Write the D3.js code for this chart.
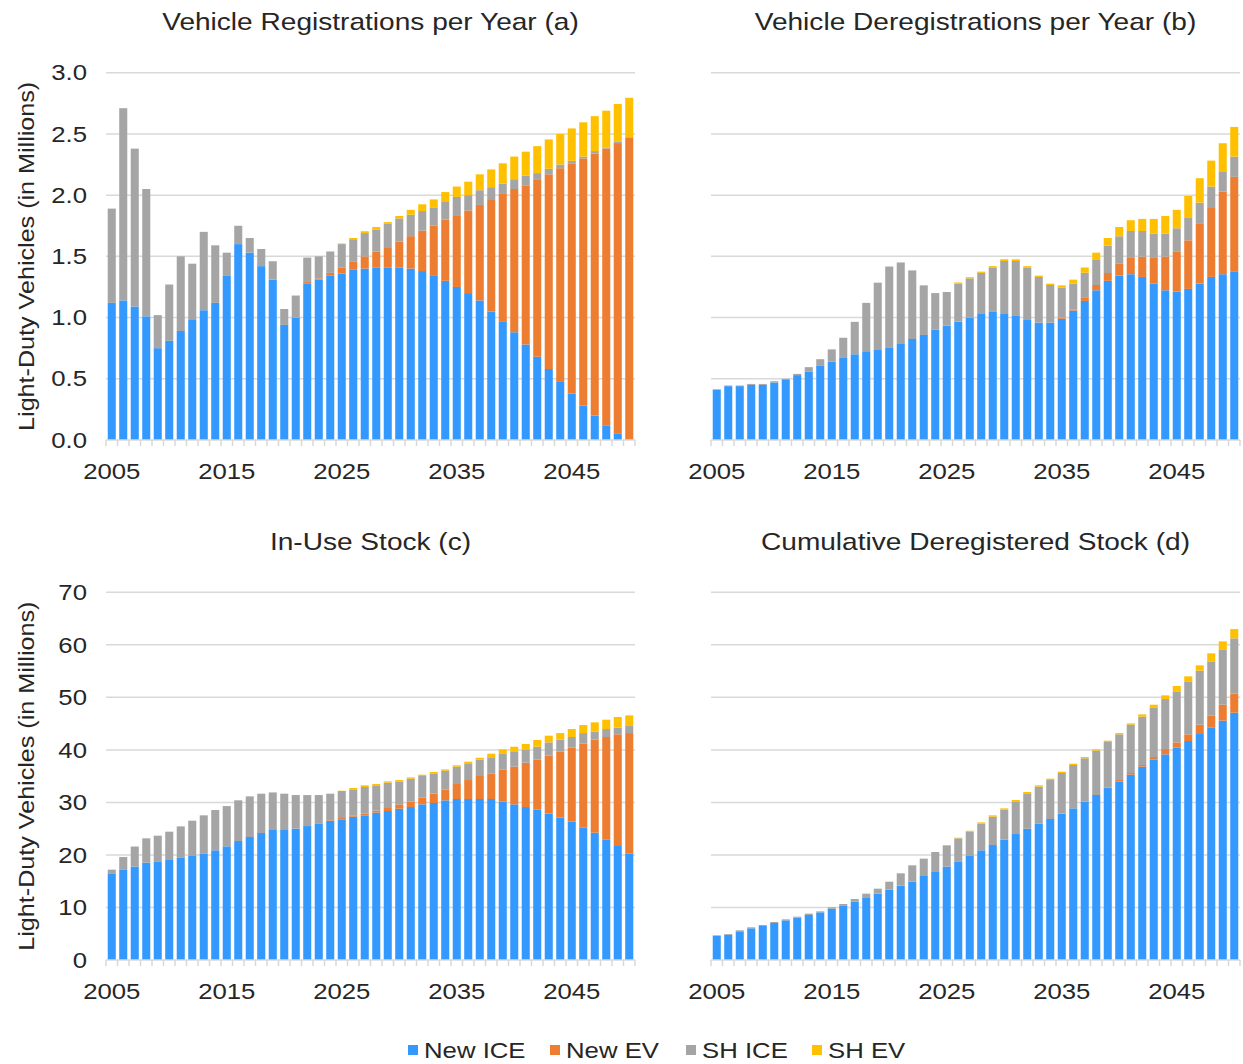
<!DOCTYPE html>
<html><head><meta charset="utf-8">
<script src="https://cdn.jsdelivr.net/npm/d3@7"></script>
<style>body{margin:0;background:#fff} svg text{font-family:"Liberation Sans",Arial,sans-serif}</style>
</head><body><svg id="chart" width="1243" height="1064"></svg>
<script>
const years = [2005,2006,2007,2008,2009,2010,2011,2012,2013,2014,2015,2016,2017,2018,2019,2020,2021,2022,2023,2024,2025,2026,2027,2028,2029,2030,2031,2032,2033,2034,2035,2036,2037,2038,2039,2040,2041,2042,2043,2044,2045,2046,2047,2048,2049,2050];
const seriesNames = ["New ICE","New EV","SH ICE","SH EV"];
const seriesColors = ["#3399ff","#ed7d31","#a5a5a5","#ffc000"];
const xTickLabels = [2005,2015,2025,2035,2045];
const annualYTicks = [0,0.5,1.0,1.5,2.0,2.5,3.0];
const stockYTicks = [0,10,20,30,40,50,60,70];
const panelTitles = ["Vehicle Registrations per Year (a)","Vehicle Deregistrations per Year (b)","In-Use Stock (c)","Cumulative Deregistered Stock (d)"];
const yAxisTitle = "Light-Duty Vehicles (in Millions)";

// (a) registrations per year
const regNewICE = [1.12,1.14,1.09,1.01,0.75,0.81,0.89,0.98,1.06,1.12, 1.34,1.60,1.53,1.42,1.31,0.94,1.00,1.28,1.31,1.345, 1.36,1.39,1.40,1.41,1.41,1.41,1.40,1.38,1.34,1.30, 1.25,1.20,1.14,1.05,0.97,0.88,0.78,0.68,0.58,0.48, 0.38,0.28,0.20,0.12,0.05,0.0];
const regNewEV = [0,0,0,0,0, 0,0,0,0,0, 0,0,0,0,0, 0,0, 0.01,0.01,0.02,0.05,0.065,0.10,0.13,0.165,0.21,0.265,0.33,0.41,0.50,0.58,0.675,0.78,0.91,1.04,1.17,1.30,1.45,1.59,1.74,1.88,2.02,2.14,2.26,2.375,2.47];
const regShICE = [0.77,1.57,1.29,1.04,0.27,0.46,0.61,0.46,0.64,0.47, 0.19,0.15,0.12,0.14,0.15,0.13,0.18,0.20,0.18,0.175, 0.19,0.185,0.19,0.18,0.19,0.19,0.175,0.16,0.15,0.15, 0.155,0.125,0.12,0.105,0.085,0.08,0.08,0.05,0.045,0.03, 0.02,0.015,0.02,0.01,0.01,0.005];
const regShEV = [0,0,0,0,0, 0,0,0,0,0, 0,0,0,0,0, 0,0,0,0,0, 0.005,0.01,0.015,0.02,0.015,0.02,0.04,0.055,0.065,0.075,0.085,0.11,0.13,0.145,0.165,0.185,0.195,0.22,0.24,0.25,0.265,0.28,0.285,0.30,0.31,0.32];

// (b) deregistrations per year
const deregNewICE = [0.41,0.44,0.44,0.45,0.45,0.47,0.49,0.53,0.56,0.605, 0.64,0.67,0.70,0.725,0.735,0.757,0.79,0.825,0.858,0.90, 0.934,0.967,1.00,1.035,1.046,1.035,1.013,0.98,0.958,0.958, 0.99,1.057,1.136,1.223,1.30,1.343,1.354,1.332,1.277,1.223, 1.212,1.234,1.277,1.332,1.354,1.378];
const deregNewEV = [0,0,0,0,0, 0,0,0,0,0, 0,0,0,0,0, 0,0,0,0,0, 0,0,0,0,0, 0,0,0,0,0, 0.01,0.01,0.03,0.043,0.064,0.10,0.133,0.166,0.21,0.275,0.329,0.397,0.488,0.563,0.675,0.771];
const deregShICE = [0.005,0.005,0.005,0.008,0.008,0.01,0.01,0.01,0.035,0.055, 0.10,0.165,0.265,0.395,0.55,0.66,0.66,0.56,0.405,0.30, 0.275,0.31,0.32,0.33,0.364,0.427,0.449,0.43,0.374,0.308, 0.243,0.21,0.20,0.21,0.224,0.221,0.22,0.209,0.199,0.188, 0.188,0.188,0.174,0.175,0.166,0.166];
const deregShEV = [0,0,0,0,0, 0,0,0,0,0, 0,0,0,0,0, 0,0,0,0,0, 0, 0.01,0.01,0.01,0.01,0.014,0.014,0.01,0.011,0.011,0.02,0.033,0.043,0.054,0.062,0.076,0.088,0.099,0.12,0.144,0.151,0.174,0.199,0.212,0.229,0.242];

// (c) in-use stock
const stockNewICE = [16.5,17.26,17.77,18.53,18.78,19.04,19.54,19.8,20.3,20.88, 21.64,22.65,23.41,24.18,24.75,24.75,25.0,25.5,26.0,26.5, 26.78,27.28,27.54,28.05,28.36,28.8,29.12,29.63,29.89,30.39, 30.65,30.65,30.65,30.65,30.14,29.63,29.12,28.62,27.86,27.1, 26.33,25.25,24.24,22.97,21.7,20.3];
const stockNewEV = [0,0,0,0,0, 0,0,0,0,0, 0,0,0,0,0, 0,0,0, 0.05,0.1,0.25,0.26,0.36,0.38,0.57,0.83,1.02,1.27,1.77,2.03,2.85,3.61,4.38,4.88,6.15,7.17,8.44,9.51,11.04,12.56,14.09,15.93,17.7,19.48,21.26,22.9];
const stockShICE = [0.7,2.34,3.83,4.63,4.89,5.39,5.9,6.72,7.24,7.67, 7.66,7.75,7.74,7.48,7.15,6.91,6.4,5.9,5.35,5.06, 5.14,4.95,5.03,4.82,4.83,4.37,4.38,4.13,3.87,3.62, 3.3,3.05,3.1,3.05,3.05,2.8,2.54,2.47,2.53,2.28, 2.03,2.02,1.52,1.52,1.27,1.34];
const stockShEV = [0,0,0,0,0, 0,0,0,0,0, 0,0,0,0,0, 0,0,0,0,0, 0.05,0.25,0.32,0.25,0.24,0.26,0.25,0.25,0.26,0.25,0.26,0.44,0.37,0.7,0.76,1.0,1.02,1.28,1.27,1.26,1.52,1.53,1.78,1.78,2.03,2.03];

// (d) cumulative deregistered stock
const cumNewICE = [4.57,4.82,5.46,6.03,6.47,7.04,7.55,8.06,8.57,9.07, 9.77,10.4,11.1,11.8,12.63,13.39,14.15,14.91,15.99,16.75, 17.77,18.78,19.8,20.88,21.89,22.91,23.98,25.0,26.0,26.84, 27.86,28.87,30.14,31.41,32.74,34.0,35.28,36.8,38.13,39.15, 40.42,41.69,43.02,44.29,45.56,47.08];
const cumNewEV = [0,0,0,0,0, 0,0,0,0,0, 0,0,0,0,0, 0,0,0,0,0, 0,0,0,0,0, 0,0,0,0,0, 0,0,0,0, 0.05,0.26,0.32,0.32,0.51,1.01,1.01,1.27,1.78,2.28,3.04,3.62];
const cumShICE = [0.13,0.13,0.19,0.19,0.19,0.19,0.19,0.19,0.25,0.19, 0.26,0.26,0.51,0.83,0.95,1.52,2.35,3.11,3.3,3.81, 4.06,4.38,4.6,5.07,5.39,5.71,6.22,6.73,7.0,7.42, 7.74,8.25,8.25,8.44,8.71,8.7,9.2,9.2,9.46,9.52, 9.71,10.09,10.28,10.28,10.54,10.53];
const cumShEV = [0,0,0,0,0, 0,0,0,0,0, 0,0,0,0,0, 0,0,0,0,0, 0, 0.12,0.2,0.25,0.26,0.25,0.26,0.25,0.25,0.26,0.25,0.25,0.25,0.25,0.25,0.24,0.25,0.44,0.5,0.7,1.02,0.95,1.01,1.53,1.52,1.77];

const panels = [
  {title: panelTitles[0], series: [regNewICE, regNewEV, regShICE, regShEV], ticks: annualYTicks, fmt: d3.format(".1f"), left: 106, right: 635, top: 72.7, bottom: 440, showY: true, titleY: 22},
  {title: panelTitles[1], series: [deregNewICE, deregNewEV, deregShICE, deregShEV], ticks: annualYTicks, fmt: d3.format(".1f"), left: 711, right: 1240, top: 72.7, bottom: 440, showY: false, titleY: 22},
  {title: panelTitles[2], series: [stockNewICE, stockNewEV, stockShICE, stockShEV], ticks: stockYTicks, fmt: d3.format("d"), left: 106, right: 635, top: 592.3, bottom: 960, showY: true, titleY: 542},
  {title: panelTitles[3], series: [cumNewICE, cumNewEV, cumShICE, cumShEV], ticks: stockYTicks, fmt: d3.format("d"), left: 711, right: 1240, top: 592.3, bottom: 960, showY: false, titleY: 542}
];

const svg = d3.select("#chart");
const gridColor = "#d9d9d9";
const textColor = "#262626";
const SX = 1.17; // horizontal text stretch seen in the reference

// text placed at (x,y) and stretched horizontally; rot = rotation in degrees
function stretchedText(parent, x, y, str, size, anchor, rot) {
  return parent.append("text")
    .attr("transform", `translate(${x},${y}) rotate(${rot || 0}) scale(${SX},1)`)
    .attr("text-anchor", anchor)
    .attr("dy", "0.35em")
    .attr("font-size", size).attr("fill", textColor)
    .text(str);
}

panels.forEach(p => {
  const g = svg.append("g");
  const x = d3.scaleBand().domain(years).range([p.left, p.right]).paddingInner(0.3).paddingOuter(0.15);
  const y = d3.scaleLinear().domain([0, d3.max(p.ticks)]).range([p.bottom, p.top]);

  // gridlines
  g.selectAll(".grid").data(p.ticks.filter(t => t > 0)).join("line")
    .attr("x1", p.left).attr("x2", p.right)
    .attr("y1", d => y(d)).attr("y2", d => y(d))
    .attr("stroke", gridColor).attr("stroke-width", 1.5);

  // stacked bars
  const rows = years.map((yr, i) => {
    const r = {year: yr};
    seriesNames.forEach((s, k) => r[s] = p.series[k][i]);
    return r;
  });
  const stacked = d3.stack().keys(seriesNames)(rows);
  g.selectAll(".layer").data(stacked).join("g")
    .attr("fill", (d, k) => seriesColors[k])
    .selectAll("rect").data(d => d).join("rect")
    .attr("x", d => x(d.data.year))
    .attr("width", x.bandwidth())
    .attr("y", d => y(d[1]))
    .attr("height", d => Math.max(0, y(d[0]) - y(d[1])));

  // x axis line and tick marks between categories
  g.append("line").attr("x1", p.left).attr("x2", p.right)
    .attr("y1", p.bottom).attr("y2", p.bottom)
    .attr("stroke", gridColor).attr("stroke-width", 1.5);
  const half = (x.step() - x.bandwidth()) / 2;
  const boundaries = years.map(yr => x(yr) - half).concat([x(years[years.length - 1]) + x.bandwidth() + half]);
  g.selectAll(".xtick").data(boundaries).join("line")
    .attr("x1", d => d).attr("x2", d => d)
    .attr("y1", p.bottom).attr("y2", p.bottom + 6)
    .attr("stroke", gridColor).attr("stroke-width", 1.5);

  xTickLabels.forEach(t => stretchedText(g, x(t) + x.bandwidth() / 2, p.bottom + 31, t, 22, "middle"));

  if (p.showY) {
    p.ticks.forEach(t => stretchedText(g, p.left - 19, y(t), p.fmt(t), 22, "end"));
    stretchedText(g, 26, (p.top + p.bottom) / 2, yAxisTitle, 21.5, "middle", -90);
  }

  stretchedText(g, (p.left + p.right) / 2, p.titleY, p.title, 24, "middle");
});

// legend
const legendX = [408, 550, 686, 812];
const legend = svg.append("g");
seriesNames.forEach((s, k) => {
  legend.append("rect").attr("x", legendX[k]).attr("y", 1045).attr("width", 10).attr("height", 10).attr("fill", seriesColors[k]);
  stretchedText(legend, legendX[k] + 16, 1050, s, 22, "start");
});
</script></body></html>
